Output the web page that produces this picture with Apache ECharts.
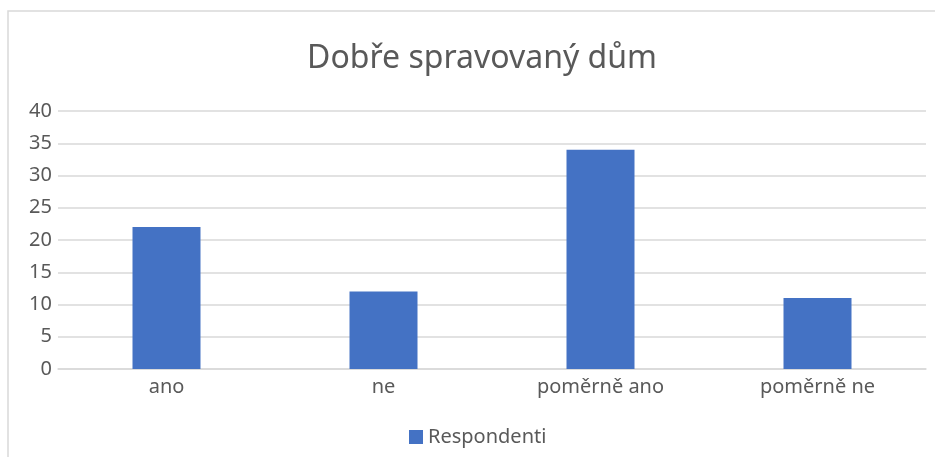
<!DOCTYPE html>
<html>
<head>
<meta charset="utf-8">
<script src="https://cdn.jsdelivr.net/npm/echarts@6/dist/echarts.min.js"></script>
<style>
html, body { margin: 0; padding: 0; background: #fff; }
#main { width: 935px; height: 457px; }
</style>
</head>
<body>
<div id="main"></div>
<script>
// data
var categories = ['ano', 'ne', 'poměrně ano', 'poměrně ne'];
var respondenti = [22, 12, 34, 11];
var yTicks = { min: 0, max: 40, interval: 5 };

var font = 'Noto Sans';
var myChart = echarts.init(document.getElementById('main'));

var option = {
    animation: false,
    graphic: [{
        type: 'rect',
        shape: { x: 8, y: 11, width: 960, height: 480 },
        style: { fill: 'none', stroke: '#d9d9d9', lineWidth: 1.5 },
        silent: true
    }],
    title: {
        text: 'Dobře spravovaný dům',
        left: 477,
        top: 38,
        textAlign: 'center',
        textStyle: {
            color: '#595959',
            fontFamily: font,
            fontWeight: 'normal',
            fontSize: 32
        }
    },
    legend: {
        data: ['Respondenti'],
        left: 404,
        bottom: 5,
        itemWidth: 14,
        itemHeight: 14,
        icon: 'rect',
        itemGap: 10,
        textStyle: { color: '#595959', fontFamily: font, fontSize: 20 }
    },
    grid: {
        left: 58,
        right: 9,
        top: 111,
        bottom: 88
    },
    xAxis: {
        type: 'category',
        data: categories,
        axisTick: { show: false },
        axisLine: { lineStyle: { color: '#d9d9d9', width: 1.5 } },
        axisLabel: { color: '#595959', fontFamily: font, fontSize: 20, margin: 8 }
    },
    yAxis: {
        type: 'value',
        min: yTicks.min,
        max: yTicks.max,
        interval: yTicks.interval,
        axisLine: { show: false },
        axisTick: { show: false },
        axisLabel: { color: '#595959', fontFamily: font, fontSize: 20, margin: 6 },
        splitLine: { lineStyle: { color: '#d9d9d9', width: 1.5 } }
    },
    series: [{
        name: 'Respondenti',
        type: 'bar',
        data: respondenti,
        barWidth: 68,
        itemStyle: { color: '#4472c4' }
    }]
};
myChart.setOption(option);
</script>
</body>
</html>
